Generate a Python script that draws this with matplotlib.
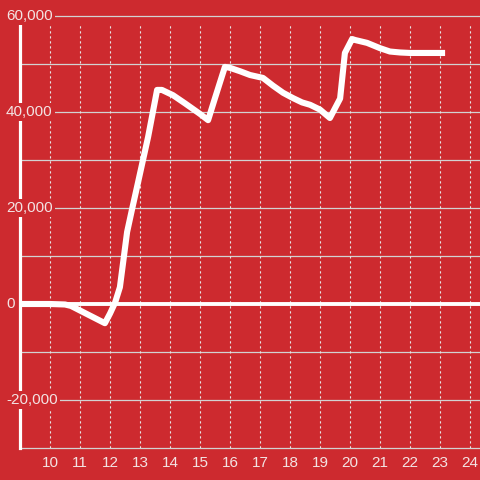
import matplotlib
matplotlib.use('Agg')
import matplotlib.pyplot as plt
import matplotlib.transforms as mtransforms

# hour of day vs. value
hours = [9.0, 10.0, 10.5, 10.7, 11.83, 12.0, 12.17, 12.33, 12.57, 12.73,
         12.93, 13.27, 13.57, 13.73, 14.1, 14.5, 15.0, 15.27, 15.5, 15.83,
         16.0, 16.33, 16.67, 17.1, 17.43, 17.77, 18.1, 18.4, 18.67, 19.0,
         19.33, 19.67, 19.83, 20.07, 20.17, 20.57, 21.0, 21.33, 21.67, 22.0,
         23.17]
values = [0, 0, -100, -400, -4000, -2000, 300, 3500, 15000, 19600,
          25200, 34800, 44600, 44600, 43500, 41800, 39600, 38300, 42900, 49400,
          49200, 48500, 47700, 47100, 45500, 44000, 42900, 42000, 41500, 40500,
          38750, 42800, 52300, 55200, 55000, 54400, 53300, 52600, 52400, 52300,
          52300]

x_ticks = list(range(10, 25))
y_labels = [60000, 40000, 20000, 0, -20000]
y_grid = list(range(-30000, 60001, 10000))

bg = '#cd2a2f'
txt = '#f3e3e3'

plt.rcParams['font.family'] = ['Liberation Sans', 'DejaVu Sans']

fig = plt.figure(figsize=(4.8, 4.8), dpi=100, facecolor=bg)
ax = fig.add_axes([20/480, 32/480, 460/480, 424/480], facecolor=bg)
ax.set_xlim(9, 9 + 460/30)
ax.set_ylim(-30000, 58333)

# horizontal grid (drawn unclipped so the 60,000 line shows above the axes)
for v in y_grid:
    if v == 0:
        continue
    ax.plot([9, 9 + 460/30], [v, v], color='#d2d2d2', lw=0.9,
            clip_on=False, zorder=1)

# vertical dotted grid
for t in x_ticks:
    ax.axvline(t, color='#e6e6e6', lw=0.8, ls=(0, (2, 2.5)), zorder=1)

ax.axhline(0, color='white', lw=2.8, zorder=2)

ax.plot(hours, values, color='white', lw=4.4,
        solid_capstyle='butt', solid_joinstyle='round', zorder=3)

for s in ['top', 'right', 'bottom']:
    ax.spines[s].set_visible(False)
ax.spines['left'].set_color('white')
ax.spines['left'].set_linewidth(2.3)

ax.set_yticks([])
ax.set_xticks(x_ticks)
ax.set_xticklabels([str(t) for t in x_ticks])
ax.tick_params(axis='x', length=0, pad=6, labelcolor=txt, labelsize=11)

# y labels with a background box that hides the spine behind them
trans = mtransforms.blended_transform_factory(fig.transFigure, ax.transData)
for v in y_labels:
    ax.text(6/480, v, f'{v:,}', transform=trans, ha='left', va='center',
            color=txt, fontsize=11, zorder=10, clip_on=False,
            bbox=dict(boxstyle='square,pad=0.15', fc=bg, ec='none'))

fig.savefig('out.png', dpi=100, facecolor=bg)
